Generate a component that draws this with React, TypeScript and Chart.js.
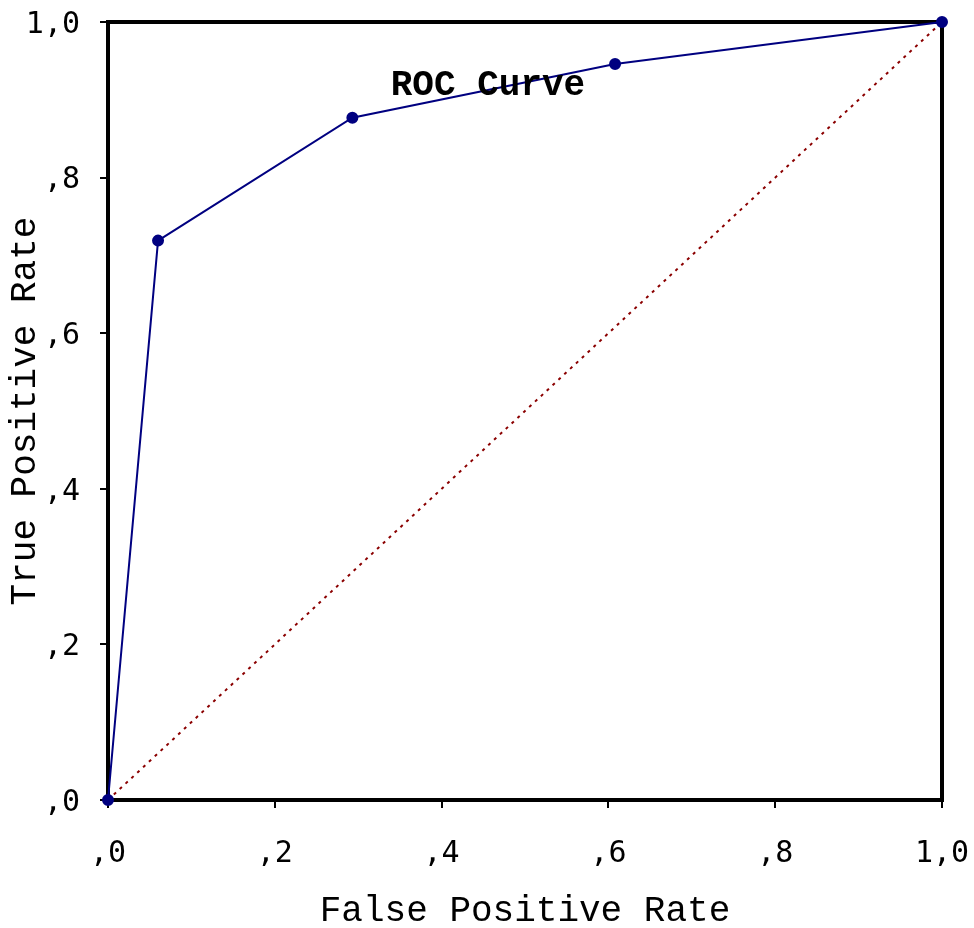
import React, { useEffect, useRef } from "react";
import { Chart, registerables } from "chart.js";

Chart.register(...registerables);

const fprValues = [0, 0.06, 0.293, 0.608, 1];
const tprValues = [0, 0.719, 0.877, 0.946, 1];
const diagX = [0, 1];
const diagY = [0, 1];
const tickLabels = [",0", ",2", ",4", ",6", ",8", "1,0"];
const chartTitle = "ROC Curve";
const xTitle = "False Positive Rate";
const yTitle = "True Positive Rate";
const titlePos = { x: 0.4556, y: 0.918 };

const tickLabel = (v: number | string) => {
  const idx = Math.round(Number(v) * 5);
  return tickLabels[idx] ?? "";
};

const framePlugin = {
  id: "frame",
  beforeDatasetsDraw(chart: any) {
    const { ctx, chartArea } = chart;
    ctx.save();
    ctx.strokeStyle = "#000";
    ctx.lineWidth = 4;
    ctx.strokeRect(chartArea.left, chartArea.top, chartArea.right - chartArea.left, chartArea.bottom - chartArea.top);
    ctx.restore();
  },
  afterDatasetsDraw(chart: any) {
    const { ctx, scales } = chart;
    const x = scales.x.getPixelForValue(titlePos.x);
    const y = scales.y.getPixelForValue(titlePos.y);
    ctx.save();
    ctx.font = "bold 36px 'Liberation Mono', 'Courier New', monospace";
    ctx.fillStyle = "#000";
    ctx.textAlign = "center";
    ctx.textBaseline = "middle";
    ctx.fillText(chartTitle, x, y);
    ctx.restore();
  },
};

export default function App() {
  const ref = useRef<HTMLCanvasElement>(null);
  useEffect(() => {
    if (!ref.current) return;
    const chart = new Chart(ref.current, {
      type: "scatter",
      data: {
        datasets: [
          {
            data: diagX.map((x, i) => ({ x, y: diagY[i] })),
            showLine: true,
            borderColor: "#8b0000",
            borderWidth: 2,
            borderDash: [3, 5],
            pointRadius: 0,
            clip: false,
            order: 2,
          },
          {
            data: fprValues.map((x, i) => ({ x, y: tprValues[i] })),
            showLine: true,
            borderColor: "#000080",
            backgroundColor: "#000080",
            borderWidth: 2,
            pointRadius: 5,
            pointBackgroundColor: "#000080",
            pointBorderColor: "#000080",
            clip: false,
            order: 1,
          },
        ],
      },
      plugins: [framePlugin],
      options: {
        animation: false,
        responsive: true,
        maintainAspectRatio: false,
        layout: { padding: { top: 22, right: 32, left: 0, bottom: 0 } },
        plugins: { legend: { display: false }, tooltip: { enabled: false } },
        scales: {
          x: {
            type: "linear",
            min: 0,
            max: 1,
            border: { display: false },
            grid: { drawOnChartArea: false, drawTicks: true, tickLength: 8, color: "#000", lineWidth: 2 },
            ticks: {
              stepSize: 0.2,
              padding: 28,
              maxRotation: 0,
              color: "#000",
              font: { family: "'DejaVu Sans Mono', monospace", size: 30 },
              callback: (v: any) => tickLabel(v),
            },
            title: {
              display: true,
              text: xTitle,
              color: "#000",
              padding: { top: 0, bottom: -5 },
              font: { family: "'Liberation Mono', 'Courier New', monospace", size: 36 },
            },
            afterFit: (s: any) => {
              s.height = 128;
              s.paddingLeft = 0;
              s.paddingRight = 0;
            },
          },
          y: {
            type: "linear",
            min: 0,
            max: 1,
            border: { display: false },
            grid: { drawOnChartArea: false, drawTicks: true, tickLength: 8, color: "#000", lineWidth: 2 },
            ticks: {
              stepSize: 0.2,
              padding: 20,
              labelOffset: 3,
              color: "#000",
              font: { family: "'DejaVu Sans Mono', monospace", size: 30 },
              callback: (v: any) => tickLabel(v),
            },
            title: {
              display: true,
              text: yTitle,
              color: "#000",
              padding: { top: 4, bottom: 0 },
              font: { family: "'Liberation Mono', 'Courier New', monospace", size: 36 },
            },
            afterFit: (s: any) => {
              s.width = 108;
              s.paddingTop = 0;
              s.paddingBottom = 0;
            },
          },
        },
      },
    });
    return () => chart.destroy();
  }, []);
  return (
    <div style={{ position: "absolute", left: 0, top: 0, width: 974, height: 928, background: "#fff" }}>
      <canvas ref={ref} />
    </div>
  );
}
